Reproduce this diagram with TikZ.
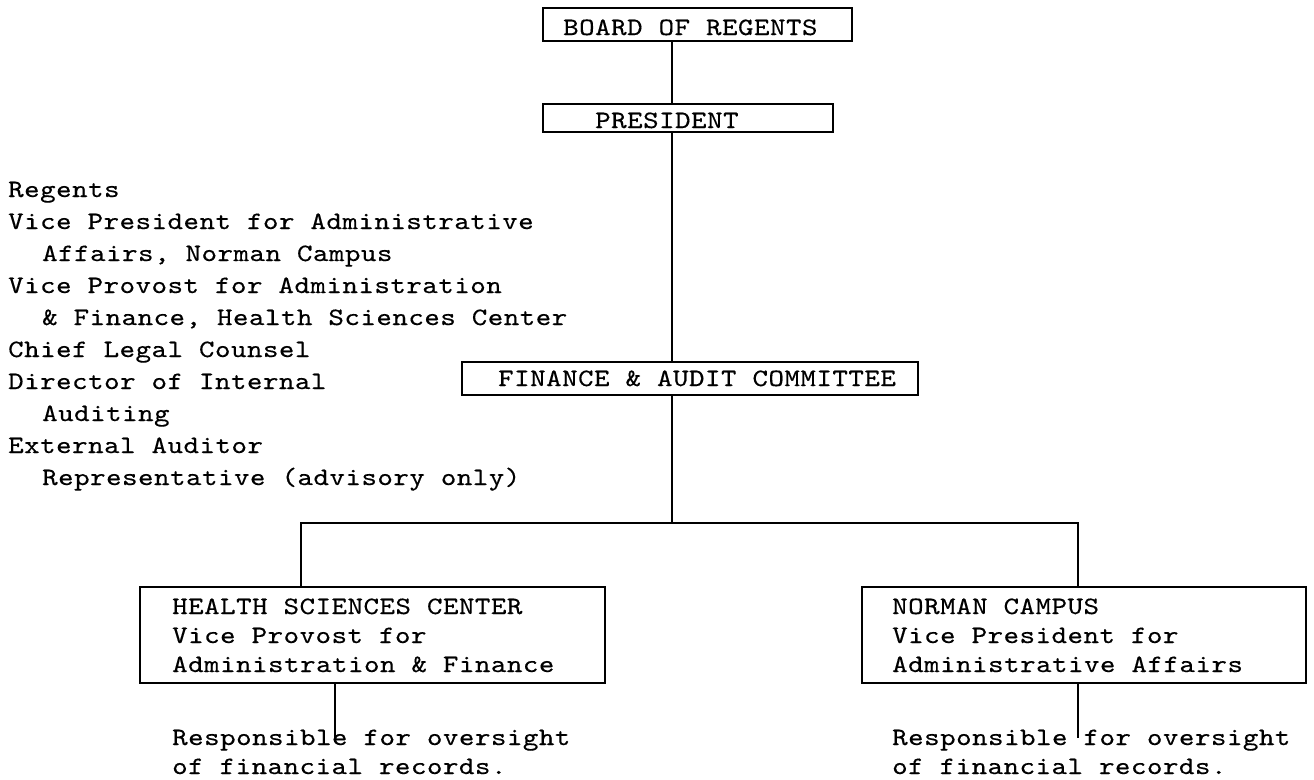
\documentclass[tikz,border=0pt]{standalone}
\usepackage{fontspec}
\newfontfamily\tw{lmmono10-regular.otf}[FakeStretch=1.18,LetterSpace=2,FakeBold=0.35]
\begin{document}
\begin{tikzpicture}[x=1pt,y=-1pt,
  box/.style={draw, line width=1.2pt, inner sep=0pt},
  txt/.style={anchor=base west, inner sep=0pt, font=\tw\fontsize{25}{30}\selectfont},
  link/.style={line width=1.2pt}]
\useasboundingbox (0,0) rectangle (1314,779);
% boxes
\node[box, minimum width=309pt, minimum height=33pt] (bor) at (697.5,24.5) {};
\node[box, minimum width=290pt, minimum height=28pt] (pres) at (688,118) {};
\node[box, minimum width=456pt, minimum height=33pt] (fin) at (690,378.5) {};
\node[box, minimum width=465pt, minimum height=96pt] (hsc) at (372.5,635) {};
\node[box, minimum width=444pt, minimum height=96pt] (nc) at (1084,635) {};
% box texts
\node[txt] (bort) at (563,35) {BOARD OF REGENTS};
\node[txt] (prest) at (595,128) {PRESIDENT};
\node[txt] (fint) at (498,386) {FINANCE \& AUDIT COMMITTEE};
\node[txt] (hsc1) at (172,614) {HEALTH SCIENCES CENTER};
\node[txt] (hsc2) at (172,643) {Vice Provost for};
\node[txt] (hsc3) at (172,672) {Administration \& Finance};
\node[txt] (nc1) at (892,614) {NORMAN CAMPUS};
\node[txt] (nc2) at (892,643) {Vice President for};
\node[txt] (nc3) at (892,672) {Administrative Affairs};
% responsibilities
\node[txt] (rl1) at (172,745) {Responsible for oversight};
\node[txt] (rl2) at (172,774) {of financial records.};
\node[txt] (rr1) at (892,745) {Responsible for oversight};
\node[txt] (rr2) at (892,774) {of financial records.};
% committee membership list
\node[txt] (m1) at (8,197) {Regents};
\node[txt] (m2) at (8,229) {Vice President for Administrative};
\node[txt] (m3) at (42,261) {Affairs, Norman Campus};
\node[txt] (m4) at (8,293) {Vice Provost for Administration};
\node[txt] (m5) at (42,325) {\& Finance, Health Sciences Center};
\node[txt] (m6) at (8,357) {Chief Legal Counsel};
\node[txt] (m7) at (8,389) {Director of Internal};
\node[txt] (m8) at (42,421) {Auditing};
\node[txt] (m9) at (8,453) {External Auditor};
\node[txt] (m10) at (42,485) {Representative (advisory only)};
% connectors
\coordinate (spine) at (672,0);
\coordinate (j) at (672,523);
\coordinate (jl) at (301,523);
\coordinate (jr) at (1078,523);
\coordinate (el) at (335,738);
\coordinate (er) at (1078,738);
\draw[link] (bor.south -| spine) -- (pres.north -| spine);
\draw[link] (pres.south -| spine) -- (fin.north -| spine);
\draw[link] (fin.south -| spine) -- (j);
\draw[link] (hsc.north -| jl) -- (jl) -- (jr) -- (nc.north -| jr);
\draw[link] (hsc.south -| el) -- (el);
\draw[link] (nc.south -| er) -- (er);
\end{tikzpicture}
\end{document}
